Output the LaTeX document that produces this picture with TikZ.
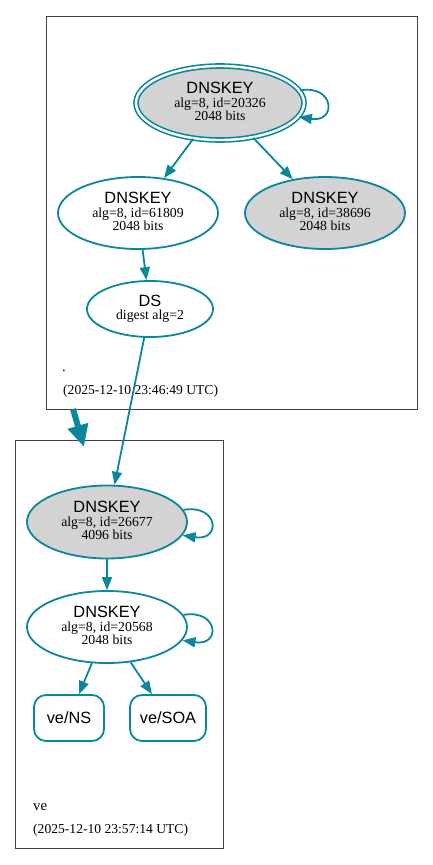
\documentclass[tikz,border=0pt]{standalone}
\usepackage{fontspec}
\setmainfont{Liberation Serif}
\setsansfont{Liberation Sans}
\usetikzlibrary{shapes.geometric,arrows.meta}
\definecolor{dnsteal}{HTML}{0A879A}
\definecolor{keygray}{HTML}{D3D3D3}
\begin{document}
\begin{tikzpicture}[x=1pt,y=-1pt,
  every node/.style={inner sep=0pt},
  keynode/.style={ellipse, draw=dnsteal, line width=1.8pt, minimum width=160pt, minimum height=72pt,
    align=center, font=\fontsize{13.8}{13.4}\selectfont},
  ksknode/.style={keynode, fill=keygray},
  dsnode/.style={ellipse, draw=dnsteal, line width=1.8pt, minimum width=126pt, minimum height=56pt,
    align=center, font=\fontsize{13.8}{13.4}\selectfont},
  rrnode/.style={rectangle, rounded corners=12pt, draw=dnsteal, line width=1.8pt,
    minimum width=70pt, minimum height=46pt, font=\sffamily\fontsize{16.3}{16}\selectfont},
  cluster/.style={draw=black!75, line width=0.8pt},
  edge/.style={draw=dnsteal, line width=1.8pt, -{Triangle[length=13pt,width=10pt]}},
  bigedge/.style={draw=dnsteal, line width=6pt, -{Triangle[length=22pt,width=20pt]}},
  zonename/.style={anchor=base west, font=\fontsize{14.7}{14.7}\selectfont},
  stamp/.style={anchor=base west, font=\fontsize{13.6}{13.6}\selectfont}
]
\newcommand{\keytitle}[1]{{\sffamily\fontsize{16.3}{13.4}\selectfont #1}}
\useasboundingbox (0,0) rectangle (433,865);
\fill[white] (0,0) rectangle (433,865);

% clusters
\draw[cluster] (46,16) rectangle (417,409);
\draw[cluster] (15,440) rectangle (223,848);

% top zone
\node[ksknode, double=white, double distance=2.4pt, line width=1.6pt,
  minimum width=168pt, minimum height=74pt] (ksk) at (220,103)
  {\keytitle{DNSKEY}\\alg=8, id=20326\\2048 bits\rule[-3pt]{0pt}{0pt}};
\node[keynode] (zsk) at (138,213) {\keytitle{DNSKEY}\\alg=8, id=61809\\2048 bits\rule[-3pt]{0pt}{0pt}};
\node[keynode, fill=keygray] (k38696) at (325,213) {\keytitle{DNSKEY}\\alg=8, id=38696\\2048 bits\rule[-3pt]{0pt}{0pt}};
\node[dsnode] (ds) at (150,309) {\keytitle{DS}\\digest alg=2};
\node[zonename] (rootname) at (62,371) {.};
\node[stamp] (rootstamp) at (63,394) {(2025-12-10 23:46:49 UTC)};

% bottom zone
\node[ksknode, minimum height=73pt] (ksk2) at (107,522) {\keytitle{DNSKEY}\\alg=8, id=26677\\4096 bits\rule[-3pt]{0pt}{0pt}};
\node[keynode] (zsk2) at (107,627) {\keytitle{DNSKEY}\\alg=8, id=20568\\2048 bits\rule[-3pt]{0pt}{0pt}};
\node[rrnode] (ns) at (69,718) {ve/NS};
\node[rrnode, minimum width=76pt] (soa) at (168,718) {ve/SOA};
\node[zonename] (vename) at (33,810) {ve};
\node[stamp] (vestamp) at (33,833) {(2025-12-10 23:57:14 UTC)};

% edges
\draw[edge] (ksk) -- (zsk);
\draw[edge] (ksk) -- (k38696);
\draw[edge] (ksk.9) .. controls +(35,-6) and +(38,6) .. (ksk.-10);
\draw[edge] (zsk) -- (ds);
\draw[edge] (ds) -- (ksk2);
\draw[edge] (ksk2) -- (zsk2);
\draw[edge] (ksk2.9) .. controls +(35,-6) and +(39,6) .. (ksk2.-10);
\draw[edge] (zsk2.9) .. controls +(35,-6) and +(39,6) .. (zsk2.-10);
\draw[edge] (zsk2) -- (ns);
\draw[edge] (zsk2) -- (soa);

% delegation between zones
\coordinate (rootbottom) at (73,409);
\coordinate (vetop) at (84,447);
\draw[bigedge] (rootbottom) -- (vetop);
\end{tikzpicture}
\end{document}
